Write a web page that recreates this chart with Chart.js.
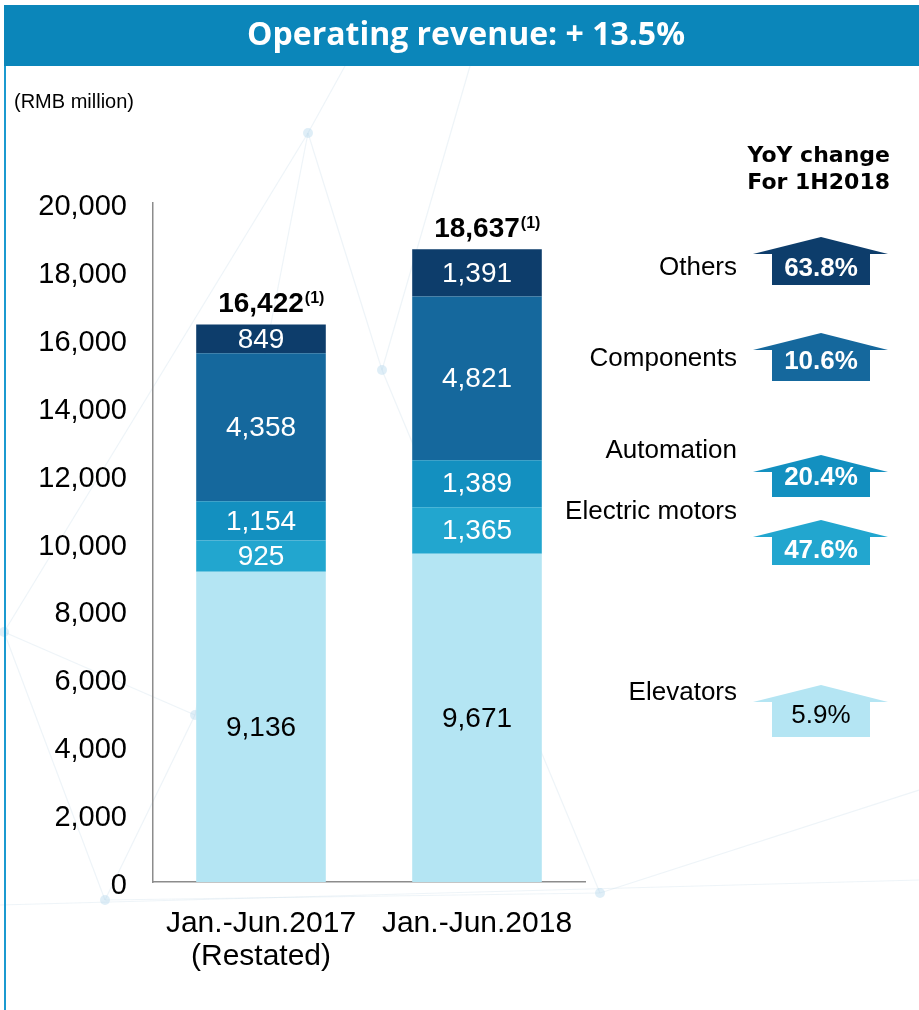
<!DOCTYPE html>
<html>
<head>
<meta charset="utf-8">
<title>Operating revenue</title>
<script src="https://cdn.jsdelivr.net/npm/chart.js@4.4.1/dist/chart.umd.min.js"></script>
<style>
  body { margin: 0; background: #fff; }
  #wrap { width: 919px; height: 1010px; }
</style>
</head>
<body>
<div id="wrap"><canvas id="revenue" width="919" height="1010"></canvas></div>
<script>
// categories on the x axis
const periods = [["Jan.-Jun.2017", "(Restated)"], "Jan.-Jun.2018"];
// business segments, bottom of the stack first
const segments = ["Elevators", "Electric motors", "Automation", "Components", "Others"];
const elevators = [9136, 9671];
const electricMotors = [925, 1365];
const automation = [1154, 1389];
const components = [4358, 4821];
const others = [849, 1391];
const yTicks = [0, 2000, 4000, 6000, 8000, 10000, 12000, 14000, 16000, 18000, 20000];

const series = [elevators, electricMotors, automation, components, others];
const segColors = ["#b4e5f3", "#22a6cf", "#1390c0", "#15689d", "#0d3d6b"];
const totals = periods.map((p, i) => series.reduce((s, arr) => s + arr[i], 0));
const growth = ((totals[1] / totals[0] - 1) * 100).toFixed(1);
const yoy = series.map(arr => ((arr[1] / arr[0] - 1) * 100).toFixed(1) + "%");

const SANS = '"Liberation Sans", Arial, sans-serif';
const fmt = v => v.toLocaleString("en-US");

// where the right hand panel items sit (apex / bottom of arrow, label and text y)
const panel = [
  { label: 693, apex: 685, bottom: 737, text: 716 },
  { label: 512, apex: 520, bottom: 565, text: 551 },
  { label: 451, apex: 455, bottom: 497, text: 478 },
  { label: 359, apex: 333, bottom: 381, text: 362 },
  { label: 268, apex: 237, bottom: 285, text: 269 }
];

const decor = {
  id: "decor",
  beforeDraw(chart) {
    const ctx = chart.ctx;
    ctx.save();
    // faint network pattern behind the chart
    const nodes = { a: [308, 133], b: [382, 370], c: [4, 632], d: [105, 900], e: [600, 893], f: [195, 715] };
    const links = [["a", "c"], ["a", "b"], ["a", "f"], ["b", "e"], ["c", "d"], ["c", "f"], ["f", "d"], ["d", "e"]];
    ctx.strokeStyle = "rgba(200,220,232,0.3)";
    ctx.lineWidth = 1.2;
    links.forEach(([p, q]) => {
      ctx.beginPath();
      ctx.moveTo(nodes[p][0], nodes[p][1]);
      ctx.lineTo(nodes[q][0], nodes[q][1]);
      ctx.stroke();
    });
    ctx.beginPath(); ctx.moveTo(308, 133); ctx.lineTo(345, 66); ctx.stroke();
    ctx.beginPath(); ctx.moveTo(382, 370); ctx.lineTo(470, 66); ctx.stroke();
    ctx.beginPath(); ctx.moveTo(0, 905); ctx.lineTo(919, 880); ctx.stroke();
    ctx.beginPath(); ctx.moveTo(600, 893); ctx.lineTo(919, 790); ctx.stroke();
    ctx.fillStyle = "rgba(175,212,235,0.4)";
    Object.values(nodes).forEach(([x, y]) => {
      ctx.beginPath(); ctx.arc(x, y, 5, 0, Math.PI * 2); ctx.fill();
    });

    // header band and left rule
    ctx.fillStyle = "#0b86ba";
    ctx.fillRect(4, 5, 915, 61);
    ctx.fillStyle = "#1b9ad0";
    ctx.fillRect(4, 66, 2, 944);
    ctx.fillStyle = "#fff";
    ctx.font = 'bold 32px "Open Sans", sans-serif';
    ctx.textAlign = "center";
    ctx.textBaseline = "middle";
    ctx.fillText("Operating revenue: + " + growth + "%", 466, 36);

    ctx.fillStyle = "#000";
    ctx.font = "20px " + SANS;
    ctx.textAlign = "left";
    ctx.fillText("(RMB million)", 14, 102);
    ctx.restore();
  },
  afterDatasetsDraw(chart) {
    const ctx = chart.ctx;
    const y = chart.scales.y;
    ctx.save();
    ctx.textAlign = "center";
    ctx.textBaseline = "middle";
    // values inside the segments (dark text on the pale bottom segment)
    ctx.font = "28px " + SANS;
    chart.data.datasets.forEach((ds, di) => {
      ctx.fillStyle = di === 0 ? "#000" : "#fff";
      chart.getDatasetMeta(di).data.forEach((bar, i) => {
        ctx.fillText(fmt(ds.data[i]), bar.x, (bar.y + bar.base) / 2 + 1);
      });
    });
    // totals with footnote mark
    const top = chart.getDatasetMeta(series.length - 1).data;
    totals.forEach((t, i) => {
      const x = top[i].x;
      const by = y.getPixelForValue(t) - 12;
      ctx.fillStyle = "#000";
      ctx.textBaseline = "alphabetic";
      ctx.textAlign = "center";
      ctx.font = "bold 28px " + SANS;
      const w = ctx.measureText(fmt(t)).width;
      ctx.fillText(fmt(t), x, by);
      ctx.textAlign = "left";
      ctx.font = "bold 16px " + SANS;
      ctx.fillText("(1)", x + w / 2 + 1, by - 9);
    });

    // YoY panel
    ctx.textAlign = "right";
    ctx.textBaseline = "middle";
    ctx.font = 'bold 22px "DejaVu Sans", sans-serif';
    ctx.fillText("YoY change", 890, 156);
    ctx.fillText("For 1H2018", 890, 183);
    panel.forEach((p, i) => {
      ctx.fillStyle = "#000";
      ctx.textAlign = "right";
      ctx.font = "26px " + SANS;
      ctx.fillText(segments[i], 737, p.label);
      const wing = p.apex + 17;
      ctx.fillStyle = segColors[i];
      ctx.beginPath();
      ctx.moveTo(821, p.apex);
      ctx.lineTo(888, wing);
      ctx.lineTo(870, wing);
      ctx.lineTo(870, p.bottom);
      ctx.lineTo(772, p.bottom);
      ctx.lineTo(772, wing);
      ctx.lineTo(753, wing);
      ctx.closePath();
      ctx.fill();
      ctx.textAlign = "center";
      ctx.fillStyle = i === 0 ? "#000" : "#fff";
      ctx.font = (i === 0 ? "" : "bold ") + "26px " + SANS;
      ctx.fillText(yoy[i], 821, p.text);
    });
    ctx.restore();
  }
};

const chart = new Chart(document.getElementById("revenue"), {
  type: "bar",
  data: {
    labels: periods,
    datasets: series.map((arr, i) => ({
      label: segments[i],
      data: arr,
      backgroundColor: segColors[i],
      borderWidth: 0,
      barPercentage: 0.6,
      categoryPercentage: 1.0
    }))
  },
  options: {
    responsive: false,
    animation: false,
    layout: { padding: { top: 203, right: 334, left: 0, bottom: 0 } },
    plugins: { legend: { display: false }, tooltip: { enabled: false } },
    scales: {
      x: {
        stacked: true,
        grid: { display: false, drawTicks: false },
        border: { color: "#8c8c8c", width: 1.5 },
        ticks: { color: "#000", font: { family: SANS, size: 30, lineHeight: 1.1 }, padding: 25, maxRotation: 0, autoSkip: false },
        afterFit(s) { s.height = 128; }
      },
      y: {
        stacked: true,
        min: 0,
        max: 20000,
        grid: { display: false, drawTicks: false },
        border: { color: "#8c8c8c", width: 1.5 },
        ticks: { color: "#000", font: { family: SANS, size: 29 }, padding: 26, labelOffset: 4, callback: v => fmt(v) },
        afterBuildTicks(s) { s.ticks = yTicks.map(v => ({ value: v })); },
        afterFit(s) { s.width = 153; }
      }
    }
  },
  plugins: [decor]
});
</script>
</body>
</html>
